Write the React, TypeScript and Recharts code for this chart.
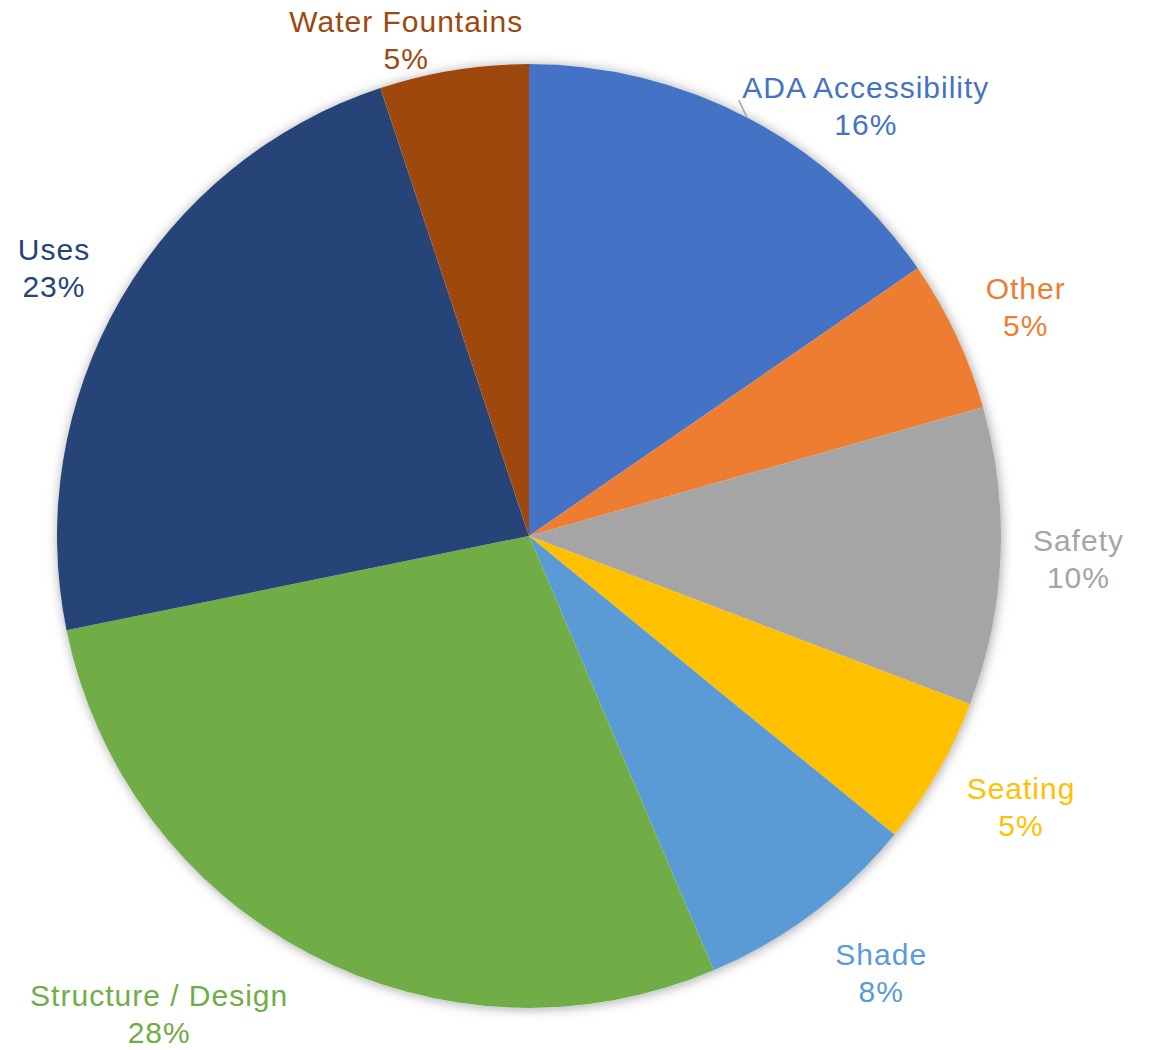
import { PieChart, Pie, Cell } from 'recharts';

const categories = [
  'ADA Accessibility',
  'Other',
  'Safety',
  'Seating',
  'Shade',
  'Structure / Design',
  'Uses',
  'Water Fountains',
];
const shares = [15.4, 5.2, 10.2, 5.1, 7.7, 28.2, 23.1, 5.1];
const percentLabels = ['16%', '5%', '10%', '5%', '8%', '28%', '23%', '5%'];

const COLORS = ['#4472C4', '#ED7D31', '#A5A5A5', '#FFC000', '#5B9BD5', '#70AD47', '#264478', '#9E480E'];

// label placement tweaks (px) relative to the default spot on the mid angle
const LABEL_NUDGE: Array<[number, number]> = [
  [81, 59],
  [-1, 7],
  [0, 1],
  [16, -2],
  [22, -1],
  [-114, -7],
  [1, 9],
  [-35, 49],
];

const CX = 529;
const CY = 536;
const R = 472;
const LABEL_R = 550;
const RAD = Math.PI / 180;
const FONT = '"Liberation Sans", Arial, Helvetica, sans-serif';

const data = categories.map((name, i) => ({ name, value: shares[i] }));
const total = shares.reduce((a, b) => a + b, 0);

function renderLabel(props: any) {
  const { cx, cy, midAngle, index } = props;
  const [dx, dy] = LABEL_NUDGE[index];
  const x = cx + LABEL_R * Math.cos(-midAngle * RAD) + dx;
  const y = cy + LABEL_R * Math.sin(-midAngle * RAD) + dy;
  const color = COLORS[index];
  let leader = null;
  if (index === 0) {
    const sx = x - 119;
    const sy = cy - Math.sqrt(R * R - (sx - cx) * (sx - cx));
    leader = <line x1={sx} y1={sy} x2={x - 127} y2={y - 8} stroke="#A6A6A6" strokeWidth={1.5} />;
  }
  return (
    <g>
      {leader}
      <text
        x={x}
        y={y - 10}
        textAnchor="middle"
        fill={color}
        fontSize={30}
        fontFamily={FONT}
        letterSpacing={1}
      >
        {categories[index]}
      </text>
      <text
        x={x}
        y={y + 27}
        textAnchor="middle"
        fill={color}
        fontSize={30}
        fontFamily={FONT}
        letterSpacing={1}
      >
        {percentLabels[index]}
      </text>
    </g>
  );
}

export default function App() {
  return (
    <div style={{ position: 'absolute', left: 0, top: 0, background: '#fff' }}>
      <style>{`.pie-shadow path { filter: drop-shadow(1px 1px 6px rgba(0,0,0,0.35)); }`}</style>
      <PieChart width={1155} height={1050} margin={{ top: 0, right: 0, bottom: 0, left: 0 }}>
        <Pie
          data={[{ name: 'all', value: total }]}
          dataKey="value"
          cx={CX}
          cy={CY}
          outerRadius={R}
          startAngle={90}
          endAngle={-270}
          fill="#fff"
          stroke="none"
          className="pie-shadow"
          isAnimationActive={false}
          label={false}
          labelLine={false}
        />
        <Pie
          data={data}
          dataKey="value"
          nameKey="name"
          cx={CX}
          cy={CY}
          outerRadius={R}
          startAngle={90}
          endAngle={-270}
          stroke="none"
          isAnimationActive={false}
          label={renderLabel}
          labelLine={false}
        >
          {data.map((d, i) => (
            <Cell key={d.name} fill={COLORS[i]} />
          ))}
        </Pie>
      </PieChart>
    </div>
  );
}
